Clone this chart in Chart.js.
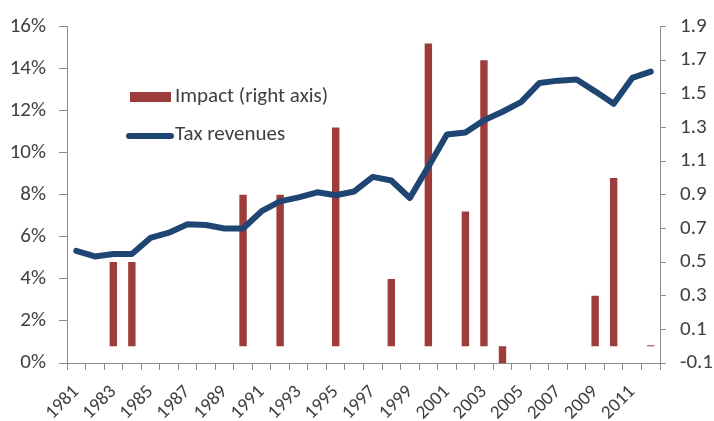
<!DOCTYPE html>
<html>
<head>
<meta charset="utf-8">
<script src="https://cdn.jsdelivr.net/npm/chart.js@4/dist/chart.umd.min.js"></script>
<style>
  html, body { margin: 0; padding: 0; background: #fff; }
  #wrap { width: 714px; height: 421px; }
</style>
</head>
<body>
<div id="wrap"><canvas id="chart" width="714" height="421"></canvas></div>
<script>
const years = [
  "1981", "1982", "1983", "1984", "1985", "1986", "1987", "1988",
  "1989", "1990", "1991", "1992", "1993", "1994", "1995", "1996",
  "1997", "1998", "1999", "2000", "2001", "2002", "2003", "2004",
  "2005", "2006", "2007", "2008", "2009", "2010", "2011", "2012",
];
// tax revenues, % (left axis)
const taxRevenues = [
  5.33, 5.07, 5.18, 5.18, 5.95, 6.2, 6.6, 6.56,
  6.4, 6.4, 7.22, 7.69, 7.88, 8.12, 7.98, 8.16,
  8.85, 8.68, 7.85, 9.34, 10.87, 10.96, 11.55, 11.95,
  12.41, 13.32, 13.43, 13.48, 12.92, 12.33, 13.56, 13.86,
];
// impact (right axis)
const impact = [
  null, null, 0.5, 0.5, null, null, null, null,
  null, 0.9, null, 0.9, null, null, 1.3, null,
  null, 0.4, null, 1.8, null, 0.8, 1.7, -0.1,
  null, null, null, null, 0.3, 1.0, null, 0.005,
];
const leftTicks = { min: 0, max: 16, step: 2 };
const rightTicks = { min: -0.1, max: 1.9, step: 0.2 };

const FONT = "Carlito, Lato, 'Liberation Sans', sans-serif";
const TEXT = "#404040";
const AXIS = "#8c8c8c";
const RED = "#9d3d3b";
const BLUE = "#1f4673";

// legend drawn inside the plot, like the original
const insideLegend = {
  id: "insideLegend",
  afterDraw(chart) {
    const ctx = chart.ctx;
    ctx.save();
    ctx.fillStyle = RED;
    ctx.fillRect(130, 92, 41, 10);
    ctx.strokeStyle = BLUE;
    ctx.lineWidth = 6;
    ctx.lineCap = "round";
    ctx.beginPath();
    ctx.moveTo(129, 136);
    ctx.lineTo(171, 136);
    ctx.stroke();
    ctx.fillStyle = TEXT;
    ctx.font = "21px " + FONT;
    ctx.textBaseline = "middle";
    ctx.fillText("Impact (right axis)", 175, 97);
    ctx.fillText("Tax revenues", 175, 135);
    ctx.restore();
  },
};

new Chart(document.getElementById("chart"), {
  type: "bar",
  data: {
    labels: years,
    datasets: [
      {
        type: "line",
        label: "Tax revenues",
        data: taxRevenues,
        yAxisID: "y",
        borderColor: BLUE,
        borderWidth: 6,
        borderCapStyle: "round",
        borderJoinStyle: "round",
        pointRadius: 0,
        tension: 0,
        order: 0,
      },
      {
        type: "bar",
        label: "Impact (right axis)",
        data: impact,
        yAxisID: "y1",
        backgroundColor: RED,
        barPercentage: 0.4,
        categoryPercentage: 1,
        order: 1,
      },
    ],
  },
  plugins: [insideLegend],
  options: {
    responsive: false,
    animation: false,
    layout: { padding: { top: 24, left: 0, right: 0, bottom: 0 } },
    plugins: { legend: { display: false }, tooltip: { enabled: false } },
    scales: {
      x: {
        offset: true,
        grid: { offset: true, drawOnChartArea: false, drawTicks: true, tickLength: 7, color: AXIS },
        border: { display: true, color: AXIS },
        ticks: {
          autoSkip: false,
          minRotation: 45,
          maxRotation: 45,
          color: TEXT,
          font: { family: FONT, size: 19 },
          padding: 11,
          callback: (v, i) => (i % 2 === 0 ? years[i] : ""),
        },
        afterFit(scale) { scale.height = 58; },
      },
      y: {
        position: "left",
        min: leftTicks.min,
        max: leftTicks.max,
        grid: { drawOnChartArea: false, drawTicks: true, tickLength: 8, color: AXIS },
        border: { display: true, color: AXIS },
        ticks: {
          stepSize: leftTicks.step,
          color: TEXT,
          font: { family: FONT, size: 21 },
          padding: 13,
          callback: (v) => v + "%",
        },
        afterFit(scale) { scale.width = 67; },
      },
      y1: {
        position: "right",
        min: rightTicks.min,
        max: rightTicks.max,
        grid: { drawOnChartArea: false, drawTicks: true, tickLength: 6, color: AXIS },
        border: { display: true, color: AXIS },
        ticks: {
          stepSize: rightTicks.step,
          color: TEXT,
          font: { family: FONT, size: 21 },
          padding: 14,
          callback: (v) => Number(v).toFixed(1),
        },
        afterFit(scale) { scale.width = 54; },
      },
    },
  },
});
</script>
</body>
</html>
